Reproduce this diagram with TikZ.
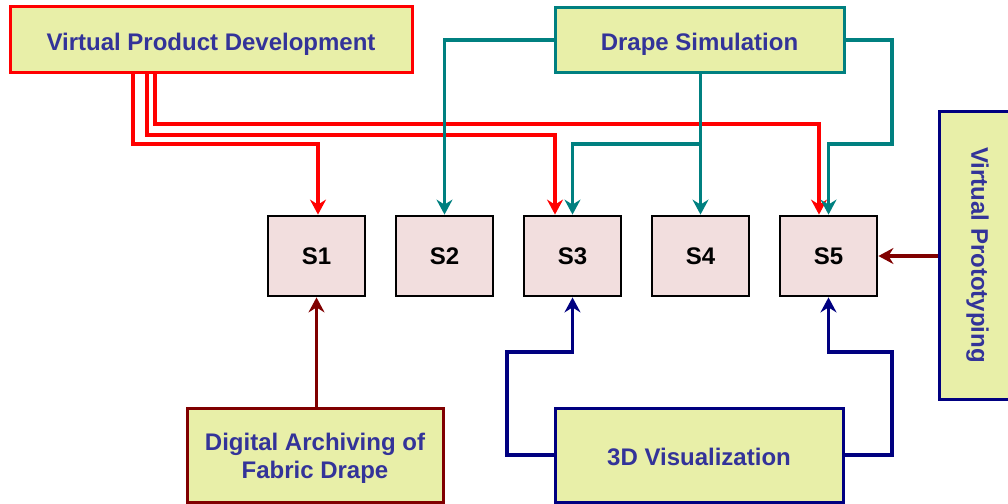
\documentclass[tikz,border=0pt]{standalone}
\usepackage{fontspec}
\setmainfont{Liberation Sans}
\usetikzlibrary{arrows.meta}

\definecolor{boxfill}{RGB}{232,239,168}
\definecolor{stagefill}{RGB}{242,222,222}
\definecolor{labelblue}{RGB}{51,51,153}
\definecolor{tealc}{RGB}{0,128,128}
\definecolor{navyc}{RGB}{0,0,128}
\definecolor{maroonc}{RGB}{128,0,0}
\definecolor{redc}{RGB}{255,0,0}

\tikzset{
  topic/.style={draw, line width=3pt, fill=boxfill, text=labelblue,
    font=\fontsize{24}{28}\selectfont\bfseries, align=center, inner sep=0pt,
    text height=21pt, text depth=0pt},
  stage/.style={draw=black, line width=2.8pt, fill=stagefill,
    minimum width=97pt, minimum height=80pt, inner sep=0pt,
    font=\fontsize{24}{29}\selectfont\bfseries},
  link/.style={line width=3.2pt,
    -{Stealth[length=15pt, width=16pt, inset=5pt]}},
}

\begin{document}
\begin{tikzpicture}[x=1pt, y=-1pt]
\useasboundingbox (0,0) rectangle (1008,503);

% source boxes
\node[topic, draw=redc, minimum width=402pt, minimum height=65pt] (vpd) at (211,39.5) {Virtual Product Development};
\node[topic, draw=tealc, minimum width=289pt, minimum height=64pt] (drape) at (699.5,40) {Drape Simulation};
\node[topic, draw=maroonc, minimum width=256pt, minimum height=94pt, text height=, text depth=] (da) at (315,455)
  {\raisebox{-3.4pt}[\height][\depth]{\begin{tabular}{@{}c@{}}Digital Archiving of\\Fabric Drape\end{tabular}}};
\node[topic, draw=navyc, minimum width=288pt, minimum height=94pt] (vis) at (699,455) {3D Visualization};
\node[topic, draw=navyc, minimum width=75pt, minimum height=288pt] (vp) at (976.5,255) {};
\node[text=labelblue, font=\fontsize{24}{29}\selectfont\bfseries, rotate=-90, inner sep=0pt] (vplabel) at (977.5,255) {Virtual Prototyping};

% stages
\node[stage] (s1) at (316.5,256) {S1};
\node[stage] (s2) at (444.5,256) {S2};
\node[stage] (s3) at (572.5,256) {S3};
\node[stage] (s4) at (700.5,256) {S4};
\node[stage] (s5) at (828.5,256) {S5};

% virtual product development
\draw[link, redc] (vpd.south -| 133,0) |- (318,144) -- (s1.north -| 318,0);
\draw[link, redc] (vpd.south -| 147,0) |- (555,135) -- (s3.north -| 555,0);
\draw[link, redc] (vpd.south -| 155,0) |- (819,124) -- (s5.north -| 819,0);

% drape simulation
\draw[link, tealc] (drape.west) -| (s2.north);
\draw[link, tealc] (drape.south -| s4.north) -- (s4.north);
\draw[link, tealc] (s4.north |- 0,144) -| (s3.north);
\draw[link, tealc] (drape.east) -| (892,144) -| (s5.north);

% digital archiving
\draw[link, maroonc] (s1.south |- da.north) -- (s1.south);

% 3D visualization
\draw[link, navyc] (vis.west) -| (507,352) -| (s3.south);
\draw[link, navyc] (vis.east) -| (892,352) -| (s5.south);

% virtual prototyping
\draw[link, maroonc] (s5.east -| vp.west) -- (s5.east);
\end{tikzpicture}
\end{document}
